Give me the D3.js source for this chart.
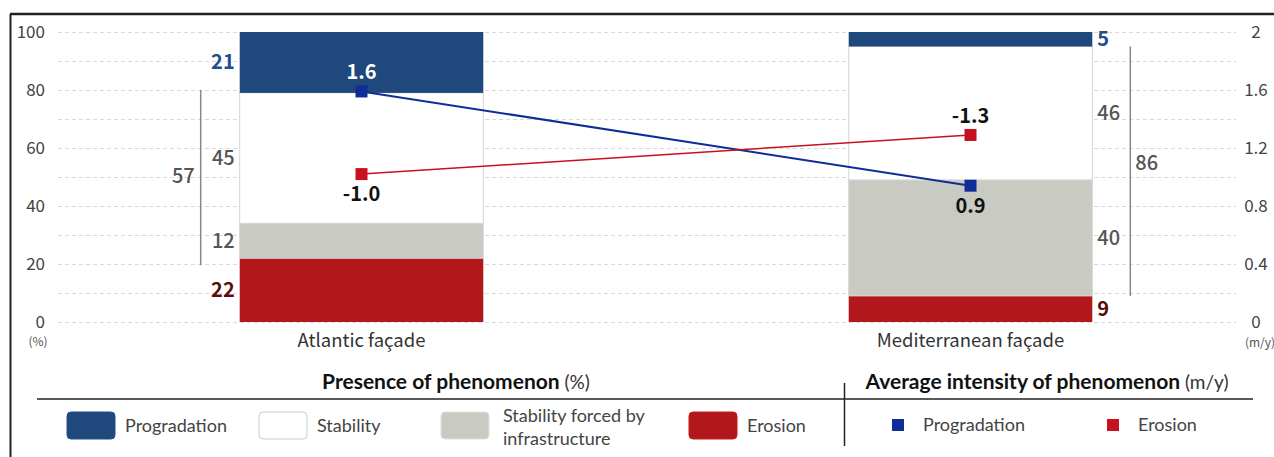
<!DOCTYPE html>
<html>
<head>
<meta charset="utf-8">
<script src="https://cdn.jsdelivr.net/npm/d3@7"></script>
<style>
  body { margin: 0; background: #fff; }
  svg text { font-family: "Noto Sans CJK JP", "Noto Sans", sans-serif; }
  svg text.lg, svg text.lg tspan { font-family: Lato, "Open Sans", sans-serif; }
</style>
</head>
<body>
<div id="chart"></div>
<script>
// categories and values
const regions = ["Atlantic façade", "Mediterranean façade"];
const segmentKeys = ["erosion", "forced", "stability", "progradation"];
const segmentNames = ["Progradation", "Stability", "Stability forced by infrastructure", "Erosion"];
const erosionPct = [22, 9];
const forcedPct = [12, 40];
const stabilityPct = [45, 46];
const progradationPct = [21, 5];
const progradationRate = [1.59, 0.94];
const erosionRate = [-1.02, -1.29];
const leftTicks = [0, 20, 40, 60, 80, 100];
const rightTicks = [0, 0.4, 0.8, 1.2, 1.6, 2];

const W = 1274, H = 457;
const svg = d3.select("#chart").append("svg").attr("width", W).attr("height", H);

const colors = { progradation: "#1f497d", stability: "#ffffff", forced: "#c9cbc3", erosion: "#b2181b" };
const labelColors = { progradation: "#1f4e8c", stability: "#555", forced: "#555", erosion: "#5c0a0a" };
const fmt = d3.formatLocale({ decimal: ".", thousands: ",", grouping: [3], currency: ["", ""], minus: "-" }).format(".1f");

// frame
svg.append("line").attr("x1", 10).attr("x2", W).attr("y1", 14).attr("y2", 14)
  .attr("stroke", "#222").attr("stroke-width", 2.5);
svg.append("line").attr("x1", 10.5).attr("x2", 10.5).attr("y1", 14).attr("y2", H)
  .attr("stroke", "#222").attr("stroke-width", 2);

// scales
const x = d3.scaleBand().domain(regions).range([57, 1275]).paddingInner(0.6).paddingOuter(0.3);
const y = d3.scaleLinear().domain([0, 100]).range([322, 32]);
const y2 = d3.scaleLinear().domain([0, 2]).range([322, 32]);

// gridlines
svg.append("g").selectAll("line").data(d3.range(0, 101, 10)).join("line")
  .attr("x1", 58).attr("x2", 1236)
  .attr("y1", d => y(d) + 0.5).attr("y2", d => y(d) + 0.5)
  .attr("stroke", "#d9d9d9").attr("stroke-dasharray", "4,3");

// left axis labels
svg.append("g").selectAll("text").data(leftTicks).join("text")
  .attr("x", 45).attr("y", d => y(d)).attr("dy", "0.35em")
  .attr("text-anchor", "end").style("font-size", "17px").style("fill", "#444")
  .text(d => d);
svg.append("text").attr("x", 38).attr("y", 342).attr("dy", "0.35em").attr("text-anchor", "middle")
  .style("font-size", "12px").style("fill", "#555").text("(%)");

// right axis labels
svg.append("g").selectAll("text").data(rightTicks).join("text")
  .attr("x", 1256).attr("y", d => y2(d)).attr("dy", "0.35em")
  .attr("text-anchor", "middle").style("font-size", "17px").style("fill", "#444")
  .text(d => d3.format("~g")(d));
svg.append("text").attr("x", 1260).attr("y", 343).attr("dy", "0.35em").attr("text-anchor", "middle")
  .style("font-size", "12px").style("fill", "#555").text("(m/y)");

// stacked bars
const table = regions.map((r, i) => ({
  region: r, erosion: erosionPct[i], forced: forcedPct[i],
  stability: stabilityPct[i], progradation: progradationPct[i]
}));
const series = d3.stack().keys(segmentKeys)(table);

const bars = svg.append("g");
series.forEach(s => {
  bars.selectAll(null).data(s).join("rect")
    .attr("x", d => x(d.data.region))
    .attr("width", x.bandwidth())
    .attr("y", d => y(d[1]))
    .attr("height", d => y(d[0]) - y(d[1]))
    .attr("fill", colors[s.key])
    .attr("stroke", s.key === "stability" || s.key === "forced" ? "#d4d4d4" : "none")
    .attr("stroke-width", 1);
});

// segment value labels: left of first bar, right of second bar
series.forEach(s => {
  s.forEach((d, i) => {
    const left = i === 0;
    const bx = left ? x(d.data.region) - 5 : x(d.data.region) + x.bandwidth() + 5;
    svg.append("text")
      .attr("x", bx).attr("y", y((d[0] + d[1]) / 2)).attr("dy", "0.35em")
      .attr("text-anchor", left ? "end" : "start")
      .style("font-size", "20px").style("font-weight", s.key === "progradation" || s.key === "erosion" ? "700" : "500")
      .style("fill", labelColors[s.key])
      .text(d.data[s.key]);
  });
});

// brackets for total stability
table.forEach((d, i) => {
  const left = i === 0;
  const lo = d.erosion, hi = d.erosion + d.forced + d.stability;
  const bx = left ? x(d.region) - 39 : x(d.region) + x.bandwidth() + 38;
  svg.append("line").attr("x1", bx).attr("x2", bx)
    .attr("y1", y(hi) - (left ? 3 : 0)).attr("y2", y(lo) + (left ? 7 : 0))
    .attr("stroke", "#888").attr("stroke-width", 1.5);
  svg.append("text")
    .attr("x", left ? bx - 6 : bx + 5).attr("y", y((lo + hi) / 2) - (left ? 0 : 8)).attr("dy", "0.35em")
    .attr("text-anchor", left ? "end" : "start")
    .style("font-size", "20px").style("font-weight", "500").style("fill", "#555")
    .text(d.forced + d.stability);
});

// category labels
svg.append("g").selectAll("text").data(regions).join("text")
  .attr("x", d => x(d) + x.bandwidth() / 2).attr("y", 341).attr("dy", "0.35em")
  .attr("text-anchor", "middle").style("font-size", "18.5px").style("fill", "#333")
  .text(d => d);

// intensity lines
const cx = r => x(r) + x.bandwidth() / 2;
const lineSeries = [
  { name: "Progradation", values: progradationRate, color: "#0f2d96", width: 2 },
  { name: "Erosion", values: erosionRate, color: "#c8101e", width: 1.5 }
];
const line = d3.line().x((d, i) => cx(regions[i])).y(d => y2(Math.abs(d)));
lineSeries.forEach(s => {
  svg.append("path").datum(s.values).attr("d", line)
    .attr("fill", "none").attr("stroke", s.color).attr("stroke-width", s.width);
});
lineSeries.forEach((s, si) => {
  const other = lineSeries[1 - si];
  s.values.forEach((v, i) => {
    const px = cx(regions[i]), py = y2(Math.abs(v));
    svg.append("rect").attr("x", px - 6).attr("y", py - 6).attr("width", 12).attr("height", 12)
      .attr("fill", s.color);
    const above = Math.abs(v) > Math.abs(other.values[i]);
    const onBlue = above && py < y(table[i].erosion + table[i].forced + table[i].stability);
    svg.append("text")
      .attr("x", px).attr("y", above ? py - 19 : py + 20).attr("dy", "0.35em")
      .attr("text-anchor", "middle")
      .style("font-size", "20px").style("font-weight", "600")
      .style("fill", onBlue ? "#fff" : "#111")
      .text(fmt(v));
  });
});

// legend
const lg = svg.append("g");
lg.append("line").attr("x1", 37).attr("x2", 1253).attr("y1", 399).attr("y2", 399)
  .attr("stroke", "#222").attr("stroke-width", 1.5);
lg.append("line").attr("x1", 844.5).attr("x2", 844.5).attr("y1", 383).attr("y2", 446)
  .attr("stroke", "#222").attr("stroke-width", 1.5);

const t1 = lg.append("text").attr("class", "lg").attr("x", 456).attr("y", 389).attr("text-anchor", "middle")
  .style("font-size", "21px").style("fill", "#111");
t1.append("tspan").style("font-weight", "700").text("Presence of phenomenon");
t1.append("tspan").style("font-size", "19px").style("fill", "#333").text(" (%)");
const t2 = lg.append("text").attr("class", "lg").attr("x", 1047).attr("y", 389).attr("text-anchor", "middle")
  .style("font-size", "21px").style("fill", "#111");
t2.append("tspan").style("font-weight", "700").text("Average intensity of phenomenon");
t2.append("tspan").style("font-size", "19px").style("fill", "#333").text(" (m/y)");

const swatchKeys = ["progradation", "stability", "forced", "erosion"];
const swatchX = [67, 259, 441, 689];
swatchKeys.forEach((k, i) => {
  lg.append("rect").attr("x", swatchX[i]).attr("y", 412).attr("width", 48).attr("height", 27)
    .attr("rx", 4).attr("fill", colors[k])
    .attr("stroke", k === "stability" ? "#ccc" : d3.color(colors[k]).brighter(0.3))
    .attr("stroke-width", 1);
  const words = segmentNames[i] === "Stability forced by infrastructure"
    ? ["Stability forced by", "infrastructure"] : [segmentNames[i]];
  words.forEach((w, j) => {
    lg.append("text").attr("class", "lg")
      .attr("x", swatchX[i] + 58 + (words.length > 1 ? 4 : 0))
      .attr("y", words.length > 1 ? 416 + j * 23 : 426).attr("dy", "0.35em")
      .style("font-size", "18px").style("fill", "#444").text(w);
  });
});
const markX = [892, 1107];
lineSeries.forEach((s, i) => {
  lg.append("rect").attr("x", markX[i]).attr("y", 419).attr("width", 12).attr("height", 12).attr("fill", s.color);
  lg.append("text").attr("class", "lg").attr("x", markX[i] + 31).attr("y", 425).attr("dy", "0.35em")
    .style("font-size", "18px").style("fill", "#444").text(s.name);
});
</script>
</body>
</html>
